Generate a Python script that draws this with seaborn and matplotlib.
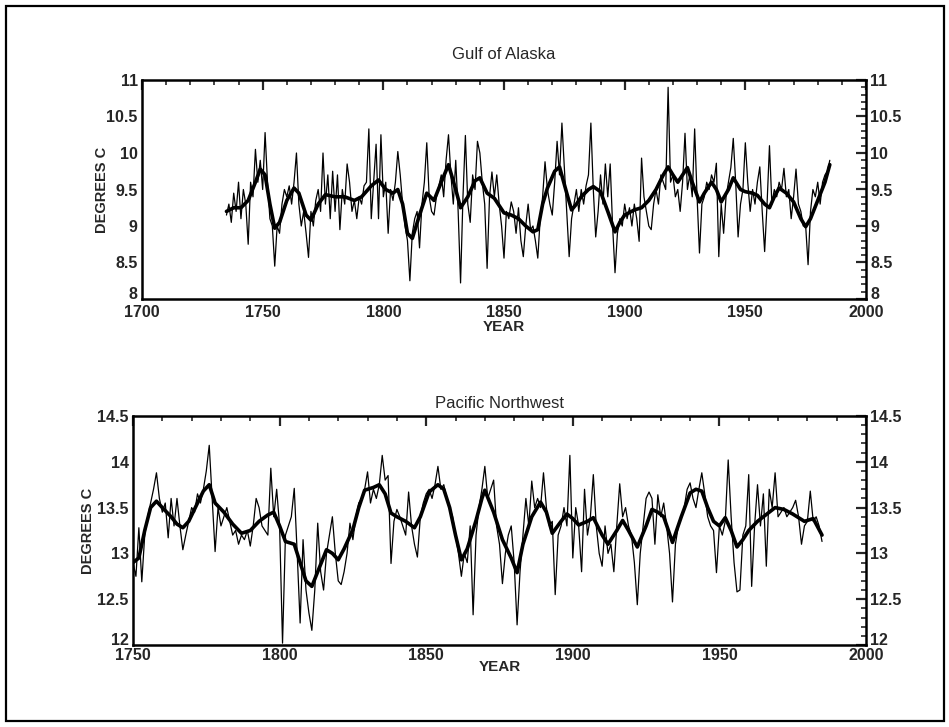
import numpy as np
import pandas as pd
import matplotlib
matplotlib.use("Agg")
import matplotlib.pyplot as plt
from matplotlib.patches import Rectangle
from matplotlib.ticker import MultipleLocator
import seaborn as sns

# ---------------- data: Gulf of Alaska ----------------
goa_years = list(range(1735, 1986))
goa_raw = [
    9.15, 9.3, 9.05, 9.45, 9.2, 9.6, 9.1, 9.5, 9.3, 8.75,          # 1735-1744
    9.6, 9.4, 10.05, 9.6, 9.9, 9.5, 10.28, 9.6, 9.1, 9.0,          # 1745-1754
    8.45, 9.0, 8.9, 9.3, 9.5, 9.4, 9.55, 9.3, 9.6, 10.0,           # 1755-1764
    9.3, 9.0, 9.2, 8.9, 8.57, 9.2, 9.0, 9.35, 9.5, 9.2,            # 1765-1774
    10.0, 9.3, 9.7, 9.1, 9.75, 9.2, 9.7, 8.95, 9.5, 9.3,           # 1775-1784
    9.85, 9.6, 9.2, 9.35, 9.1, 9.4, 9.3, 9.55, 9.6, 10.33,         # 1785-1794
    9.1, 9.6, 10.12, 9.1, 10.25, 9.4, 9.6, 8.9, 9.5, 9.35,         # 1795-1804
    9.6, 10.02, 9.7, 9.3, 9.0, 8.8, 8.25, 8.9, 9.1, 9.2,           # 1805-1814
    8.7, 9.3, 9.6, 10.14, 9.4, 9.2, 9.15, 9.4, 9.55, 9.7,          # 1815-1824
    9.4, 9.9, 10.25, 9.7, 9.3, 9.9, 9.2, 8.22, 9.4, 10.24,         # 1825-1834
    9.3, 9.05, 9.7, 9.5, 10.16, 10.0, 9.6, 9.3, 8.42, 9.4,         # 1835-1844
    9.74, 9.4, 9.7, 9.3, 9.0, 8.56, 9.2, 9.1, 9.33, 9.2,           # 1845-1854
    8.9, 9.25, 8.8, 8.58, 9.0, 9.3, 8.95, 9.0, 8.8, 8.56,          # 1855-1864
    9.1, 9.4, 9.88, 9.5, 9.3, 9.15, 9.6, 10.16, 9.7, 10.41,        # 1865-1874
    9.8, 9.2, 8.58, 9.1, 9.3, 9.5, 9.2, 9.5, 9.3, 9.55,            # 1875-1884
    9.7, 10.41, 9.5, 8.85, 9.2, 9.7, 9.3, 9.85, 9.4, 9.85,         # 1885-1894
    9.0, 8.36, 8.9, 9.1, 9.0, 9.3, 9.1, 9.25, 9.0, 9.3,            # 1895-1904
    9.1, 8.79, 9.93, 9.4, 9.2, 9.0, 8.95, 9.3, 9.5, 9.3,           # 1905-1914
    9.7, 9.6, 9.5, 10.9, 9.6, 9.7, 9.4, 9.5, 9.2, 9.6,             # 1915-1924
    10.27, 9.5, 9.7, 9.4, 10.33, 9.4, 8.63, 9.3, 9.4, 9.6,         # 1925-1934
    9.5, 9.7, 9.6, 9.86, 8.58, 9.3, 8.9, 9.4, 9.6, 9.8,            # 1935-1944
    10.2, 9.6, 8.85, 9.3, 9.5, 10.14, 9.6, 9.2, 9.5, 9.3,          # 1945-1954
    9.6, 9.81, 9.2, 8.65, 9.3, 10.1, 9.3, 9.5, 9.4, 9.6,           # 1955-1964
    9.5, 9.79, 9.4, 9.5, 9.1, 9.4, 9.78, 9.3, 9.2, 9.0,            # 1965-1974
    9.0, 8.47, 9.2, 9.5, 9.4, 9.6, 9.3, 9.6, 9.7, 9.75,            # 1975-1984
    9.9,                                                          # 1985
]
goa_smooth_years = [1735, 1738, 1741, 1744, 1747, 1749, 1751, 1753, 1755, 1757,
                    1760, 1763, 1765, 1768, 1770, 1773, 1776, 1780, 1784, 1788,
                    1791, 1795, 1798, 1801, 1804, 1806, 1808, 1810, 1812, 1815,
                    1818, 1821, 1824, 1827, 1830, 1832, 1835, 1838, 1840, 1843,
                    1846, 1850, 1853, 1856, 1859, 1862, 1864, 1866, 1868, 1871,
                    1873, 1876, 1878, 1880, 1882, 1885, 1887, 1890, 1893, 1896,
                    1898, 1900, 1904, 1907, 1910, 1913, 1916, 1918, 1920, 1922,
                    1924, 1926, 1928, 1931, 1933, 1936, 1938, 1940, 1943, 1945,
                    1948, 1950, 1953, 1955, 1958, 1960, 1962, 1964, 1967, 1970,
                    1973, 1975, 1977, 1980, 1983, 1985]
goa_smooth = [9.2, 9.25, 9.25, 9.35, 9.6, 9.78, 9.7, 9.3, 8.97, 9.05,
              9.35, 9.52, 9.45, 9.15, 9.08, 9.3, 9.43, 9.4, 9.4, 9.35,
              9.4, 9.55, 9.63, 9.5, 9.45, 9.5, 9.3, 8.9, 8.83, 9.15,
              9.45, 9.35, 9.6, 9.84, 9.5, 9.25, 9.4, 9.62, 9.66, 9.45,
              9.38, 9.18, 9.15, 9.1, 9.0, 8.92, 8.95, 9.3, 9.52, 9.75,
              9.81, 9.45, 9.22, 9.3, 9.4, 9.5, 9.54, 9.47, 9.2, 8.92,
              9.05, 9.15, 9.22, 9.25, 9.35, 9.5, 9.7, 9.81, 9.7, 9.6,
              9.7, 9.8, 9.6, 9.33, 9.45, 9.6, 9.5, 9.33, 9.5, 9.66,
              9.5, 9.47, 9.45, 9.42, 9.3, 9.25, 9.4, 9.52, 9.45, 9.33,
              9.1, 8.99, 9.1, 9.35, 9.6, 9.84]

# ---------------- data: Pacific Northwest ----------------
pnw_years = list(range(1750, 1986))
pnw_raw = [
    12.9, 12.75, 13.28, 12.69, 13.2, 13.4, 13.55, 13.7, 13.88, 13.6,       # 1750-1759
    13.45, 13.55, 13.17, 13.6, 13.3, 13.6, 13.3, 13.04, 13.2, 13.35,       # 1760-1769
    13.5, 13.45, 13.65, 13.55, 13.7, 13.9, 14.18, 13.6, 13.02, 13.5,       # 1770-1779
    13.3, 13.4, 13.5, 13.35, 13.2, 13.25, 13.1, 13.2, 13.15, 13.25,        # 1780-1789
    13.08, 13.3, 13.6, 13.5, 13.3, 13.25, 13.2, 13.93, 13.4, 13.7,         # 1790-1799
    13.3, 12.02, 13.2, 13.3, 13.4, 13.71, 13.0, 12.24, 13.15, 12.6,        # 1800-1809
    12.35, 12.16, 12.6, 13.33, 12.8, 12.6, 13.0, 13.2, 13.4, 13.0,         # 1810-1819
    12.7, 12.66, 12.8, 13.0, 13.33, 13.15, 13.4, 13.55, 13.6, 13.7,        # 1820-1829
    13.89, 13.55, 13.7, 13.6, 13.75, 14.07, 13.8, 13.85, 12.89, 13.35,     # 1830-1839
    13.48, 13.4, 13.3, 13.2, 13.67, 13.3, 13.1, 12.96, 13.4, 13.55,        # 1840-1849
    13.65, 13.7, 13.6, 13.75, 13.95, 13.7, 13.75, 13.6, 13.5, 13.4,        # 1850-1859
    13.2, 13.0, 12.75, 13.0, 12.9, 13.3, 12.33, 13.2, 13.5, 13.7,          # 1860-1869
    13.95, 13.6, 13.7, 13.8, 13.3, 13.1, 12.67, 13.0, 13.2, 13.3,          # 1870-1879
    12.9, 12.22, 12.8, 13.2, 13.6, 13.3, 13.79, 13.5, 13.6, 13.5,          # 1880-1889
    13.88, 13.5, 13.3, 13.35, 12.55, 13.2, 13.3, 13.5, 13.3, 14.07,        # 1890-1899
    12.95, 13.5, 13.3, 12.8, 13.7, 13.2, 13.4, 13.86, 13.3, 13.0,          # 1900-1909
    12.86, 13.3, 13.0, 13.1, 12.8, 13.3, 13.76, 13.4, 13.5, 13.3,          # 1910-1919
    13.2, 12.9, 12.44, 13.0, 13.3, 13.6, 13.67, 13.6, 13.1, 13.64,         # 1920-1929
    13.4, 13.55, 13.3, 13.0, 12.47, 13.1, 13.3, 13.4, 13.5, 13.7,          # 1930-1939
    13.77, 13.6, 13.5, 13.7, 13.88, 13.65, 13.4, 13.3, 13.25, 12.79,       # 1940-1949
    13.3, 13.2, 13.35, 14.02, 13.4, 12.9, 12.58, 12.6, 13.2, 13.3,         # 1950-1959
    13.86, 12.64, 13.3, 13.75, 13.3, 13.65, 12.86, 13.7, 13.5, 13.88,      # 1960-1969
    13.4, 13.45, 13.5, 13.4, 13.45, 13.5, 13.58, 13.4, 13.1, 13.3,         # 1970-1979
    13.35, 13.68, 13.35, 13.4, 13.3, 13.13,                                # 1980-1985
]
pnw_smooth_years = [1750, 1752, 1754, 1756, 1758, 1760, 1763, 1765, 1767, 1769,
                    1772, 1774, 1776, 1778, 1781, 1784, 1787, 1790, 1793, 1796,
                    1798, 1800, 1802, 1805, 1807, 1809, 1811, 1813, 1816, 1818,
                    1820, 1822, 1825, 1827, 1829, 1832, 1834, 1836, 1838, 1840,
                    1843, 1846, 1848, 1851, 1854, 1856, 1858, 1860, 1862, 1864,
                    1867, 1869, 1870, 1873, 1876, 1879, 1881, 1883, 1886, 1889,
                    1891, 1893, 1896, 1898, 1900, 1902, 1905, 1907, 1910, 1912,
                    1915, 1917, 1919, 1922, 1925, 1927, 1929, 1931, 1934, 1937,
                    1940, 1942, 1944, 1946, 1948, 1950, 1952, 1954, 1956, 1958,
                    1960, 1963, 1965, 1967, 1969, 1972, 1975, 1979, 1982, 1985]
pnw_smooth = [12.9, 12.95, 13.25, 13.5, 13.57, 13.5, 13.4, 13.32, 13.28, 13.35,
              13.55, 13.68, 13.75, 13.55, 13.45, 13.32, 13.22, 13.25, 13.35, 13.42,
              13.45, 13.3, 13.13, 13.1, 12.9, 12.7, 12.64, 12.8, 13.04, 13.0,
              12.93, 13.05, 13.26, 13.5, 13.69, 13.72, 13.75, 13.65, 13.44, 13.4,
              13.35, 13.28, 13.4, 13.67, 13.75, 13.7, 13.5, 13.2, 12.93, 13.05,
              13.36, 13.6, 13.69, 13.45, 13.15, 12.95, 12.79, 13.1, 13.4, 13.56,
              13.45, 13.22, 13.35, 13.43, 13.38, 13.31, 13.35, 13.39, 13.2, 13.1,
              13.25, 13.36, 13.25, 13.07, 13.3, 13.48, 13.45, 13.4, 13.12, 13.4,
              13.66, 13.7, 13.68, 13.5, 13.35, 13.3, 13.39, 13.25, 13.07, 13.15,
              13.25, 13.35, 13.4, 13.45, 13.5, 13.48, 13.43, 13.35, 13.38, 13.2]

titles = ["Gulf of Alaska", "Pacific Northwest"]
x_label = "YEAR"
y_label = "DEGREES C"

# ---------------- figure ----------------
sns.set_style("white")
plt.rcParams["font.family"] = ["Liberation Sans", "DejaVu Sans"]

fig = plt.figure(figsize=(9.49, 7.27), dpi=100)
fig.patches.append(Rectangle((6 / 949, 6 / 727), 938 / 949, 715 / 727,
                             transform=fig.transFigure, fill=False,
                             edgecolor="black", linewidth=1.6))

ax1 = fig.add_axes([142 / 949, 1 - 299 / 727, 724 / 949, 219 / 727])
ax2 = fig.add_axes([133 / 949, 1 - 645 / 727, 733 / 949, 229 / 727])

df1 = pd.DataFrame({"year": goa_years, "temp": goa_raw})
df1s = pd.DataFrame({"year": goa_smooth_years, "temp": goa_smooth})
df2 = pd.DataFrame({"year": pnw_years, "temp": pnw_raw})
df2s = pd.DataFrame({"year": pnw_smooth_years, "temp": pnw_smooth})

for ax, raw, sm in [(ax1, df1, df1s), (ax2, df2, df2s)]:
    sns.lineplot(data=raw, x="year", y="temp", ax=ax, color="black",
                 linewidth=0.9, estimator=None, sort=False)
    sns.lineplot(data=sm, x="year", y="temp", ax=ax, color="black",
                 linewidth=2.6, estimator=None, sort=False)


def style_axis(ax, xlim, ylim, yticks, ylabels, title, title_pad,
               xpad, xlabelpad, ylab_x):
    ax.set_xlim(*xlim)
    ax.set_ylim(*ylim)
    ax.set_xticks(list(range(xlim[0], xlim[1] + 1, 50)))
    ax.xaxis.set_minor_locator(MultipleLocator(10))
    ax.set_yticks(yticks)
    ax.set_yticklabels(ylabels)
    ax.yaxis.set_minor_locator(MultipleLocator(0.1))
    ax.tick_params(axis="both", which="major", direction="in", length=7,
                   width=1.6, top=True, right=True, labelright=True,
                   labelsize=11.5, pad=3)
    ax.tick_params(axis="x", which="major", pad=xpad)
    ax.tick_params(axis="both", which="minor", direction="in", length=3.5,
                   width=1.2, top=True, right=True)
    for t in ax.xaxis.get_major_ticks():
        t.label1.set_fontweight("bold")
    yt = ax.yaxis.get_major_ticks()
    for t in yt:
        t.label1.set_fontweight("bold")
        t.label2.set_fontweight("bold")
    # lowest value label sits on the axis line, as in the original
    yt[0].label1.set_verticalalignment("baseline")
    yt[0].label2.set_verticalalignment("baseline")
    for sp in ax.spines.values():
        sp.set_visible(True)
        sp.set_linewidth(1.8)
        sp.set_color("black")
    ax.set_xlabel(x_label, fontsize=11, fontweight="bold", labelpad=xlabelpad)
    ax.set_ylabel(y_label, fontsize=10.5, fontweight="bold")
    ax.yaxis.set_label_coords(ylab_x, 0.5)
    ax.set_title(title, fontsize=12,
                 family=["Liberation Sans Narrow", "Liberation Sans", "DejaVu Sans"],
                 pad=title_pad)


# y-label (right edge) positions in axes fraction
style_axis(ax1, (1700, 2000), (8, 11), [8, 8.5, 9, 9.5, 10, 10.5, 11],
           ["8", "8.5", "9", "9.5", "10", "10.5", "11"], titles[0], 15,
           4, 0, (109 - 142) / 724)
style_axis(ax2, (1750, 2000), (12, 14.5), [12, 12.5, 13, 13.5, 14, 14.5],
           ["12", "12.5", "13", "13.5", "14", "14.5"], titles[1], 6,
           2, -2, (95 - 133) / 733)

fig.savefig("out.png", dpi=100, facecolor="white")
